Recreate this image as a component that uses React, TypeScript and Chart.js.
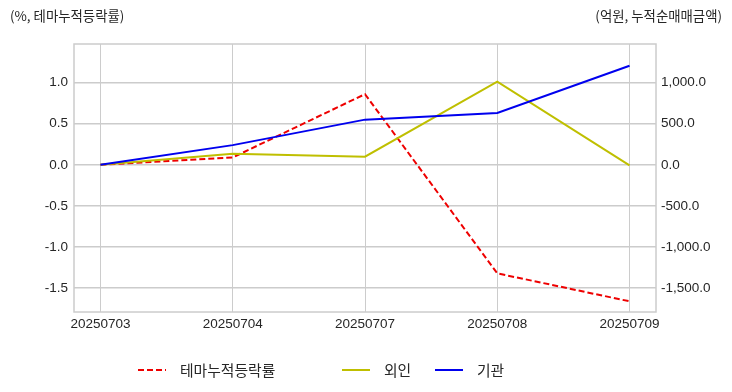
import React, { useEffect, useRef } from "react";
import { Chart, registerables } from "chart.js";

Chart.register(...registerables);

const categories = ["20250703", "20250704", "20250707", "20250708", "20250709"];
const themeReturn = [0.0, 0.09, 0.86, -1.32, -1.66];
const foreignNet = [0, 135, 100, 1012, -6];
const institutionNet = [0, 240, 550, 630, 1205];
const leftTicks = [-1.5, -1.0, -0.5, 0.0, 0.5, 1.0];
const rightTicks = [-1500, -1000, -500, 0, 500, 1000];
const seriesNames = ["테마누적등락률", "외인", "기관"];

const FONT = "'Liberation Sans', 'Noto Sans CJK KR', sans-serif";
const KFONT = "'Noto Sans CJK KR', 'Liberation Sans', sans-serif";
const GRID = "#cccccc";
const TEXT = "#262626";

const fmtRight = (v: number) =>
  v.toLocaleString("en-US", { minimumFractionDigits: 1, maximumFractionDigits: 1 });

const decorPlugin = {
  id: "decor",
  beforeDatasetsDraw(chart: any) {
    const { ctx, chartArea } = chart;
    ctx.save();
    ctx.strokeStyle = GRID;
    ctx.lineWidth = 1.5;
    ctx.strokeRect(chartArea.left, chartArea.top, chartArea.right - chartArea.left, chartArea.bottom - chartArea.top);
    ctx.restore();
  },
  afterDraw(chart: any) {
    const { ctx } = chart;
    ctx.save();
    ctx.fillStyle = TEXT;
    ctx.font = `13.4px ${KFONT}`;
    ctx.textBaseline = "middle";
    ctx.textAlign = "left";
    ctx.fillText("(%, 테마누적등락률)", 10, 16);
    ctx.textAlign = "right";
    ctx.fillText("(억원, 누적순매매금액)", 722, 16);

    // legend
    const xs = [138, 342, 435];
    const y = 370;
    ctx.font = `14.8px ${KFONT}`;
    ctx.textAlign = "left";
    chart.data.datasets.forEach((ds: any, i: number) => {
      ctx.save();
      ctx.strokeStyle = ds.borderColor;
      ctx.lineWidth = 2;
      ctx.setLineDash(ds.borderDash || []);
      ctx.beginPath();
      ctx.moveTo(xs[i], y);
      ctx.lineTo(xs[i] + 28, y);
      ctx.stroke();
      ctx.restore();
      ctx.fillStyle = TEXT;
      ctx.fillText(ds.label, xs[i] + 42, y);
    });
    ctx.restore();
  },
};

export default function App() {
  const ref = useRef<HTMLCanvasElement | null>(null);
  useEffect(() => {
    if (!ref.current) return;
    const toPts = (arr: number[]) => arr.map((v, i) => ({ x: i, y: v }));
    const chart = new Chart(ref.current, {
      type: "line",
      data: {
        datasets: [
          {
            label: seriesNames[0],
            data: toPts(themeReturn),
            borderColor: "#ee0000",
            borderWidth: 2,
            borderDash: [6, 3],
            pointRadius: 0,
            yAxisID: "y",
            order: 3,
            tension: 0,
          },
          {
            label: seriesNames[1],
            data: toPts(foreignNet),
            borderColor: "#bfbf00",
            borderWidth: 2,
            pointRadius: 0,
            yAxisID: "y1",
            order: 2,
            tension: 0,
          },
          {
            label: seriesNames[2],
            data: toPts(institutionNet),
            borderColor: "#0000ee",
            borderWidth: 2,
            pointRadius: 0,
            yAxisID: "y1",
            order: 1,
            tension: 0,
          },
        ],
      },
      options: {
        animation: false,
        responsive: false,
        maintainAspectRatio: false,
        layout: { padding: { top: 44, left: 0, right: 0, bottom: 0 } },
        plugins: { legend: { display: false }, tooltip: { enabled: false } },
        scales: {
          x: {
            type: "linear",
            min: -0.2,
            max: 4.2,
            afterBuildTicks: (s: any) => {
              s.ticks = categories.map((_, i) => ({ value: i }));
            },
            afterFit: (s: any) => {
              s.height = 80;
            },
            grid: { color: GRID, lineWidth: 1, drawTicks: false },
            border: { display: false },
            ticks: {
              padding: 4,
              color: TEXT,
              font: { family: FONT, size: 13.5 },
              maxRotation: 0,
              callback: (v: any) => categories[Math.round(v)] ?? "",
            },
          },
          y: {
            type: "linear",
            position: "left",
            min: -1.79,
            max: 1.47,
            afterBuildTicks: (s: any) => {
              s.ticks = leftTicks.map((v) => ({ value: v }));
            },
            afterFit: (s: any) => {
              s.width = 74;
            },
            grid: { color: GRID, lineWidth: 1.5, drawTicks: false },
            border: { display: false },
            ticks: {
              padding: 6,
              color: TEXT,
              font: { family: FONT, size: 13.5 },
              callback: (v: any) => Number(v).toFixed(1),
            },
          },
          y1: {
            type: "linear",
            position: "right",
            min: -1790,
            max: 1470,
            afterBuildTicks: (s: any) => {
              s.ticks = rightTicks.map((v) => ({ value: v }));
            },
            afterFit: (s: any) => {
              s.width = 76;
            },
            grid: { display: false, drawTicks: false },
            border: { display: false },
            ticks: {
              padding: 5,
              color: TEXT,
              font: { family: FONT, size: 13.5 },
              callback: (v: any) => fmtRight(Number(v)),
            },
          },
        },
      },
      plugins: [decorPlugin],
    });
    return () => chart.destroy();
  }, []);
  return (
    <div style={{ position: "fixed", left: 0, top: 0, width: 732, height: 392, background: "#fff" }}>
      <canvas ref={ref} width={732} height={392} style={{ width: 732, height: 392 }} />
    </div>
  );
}
